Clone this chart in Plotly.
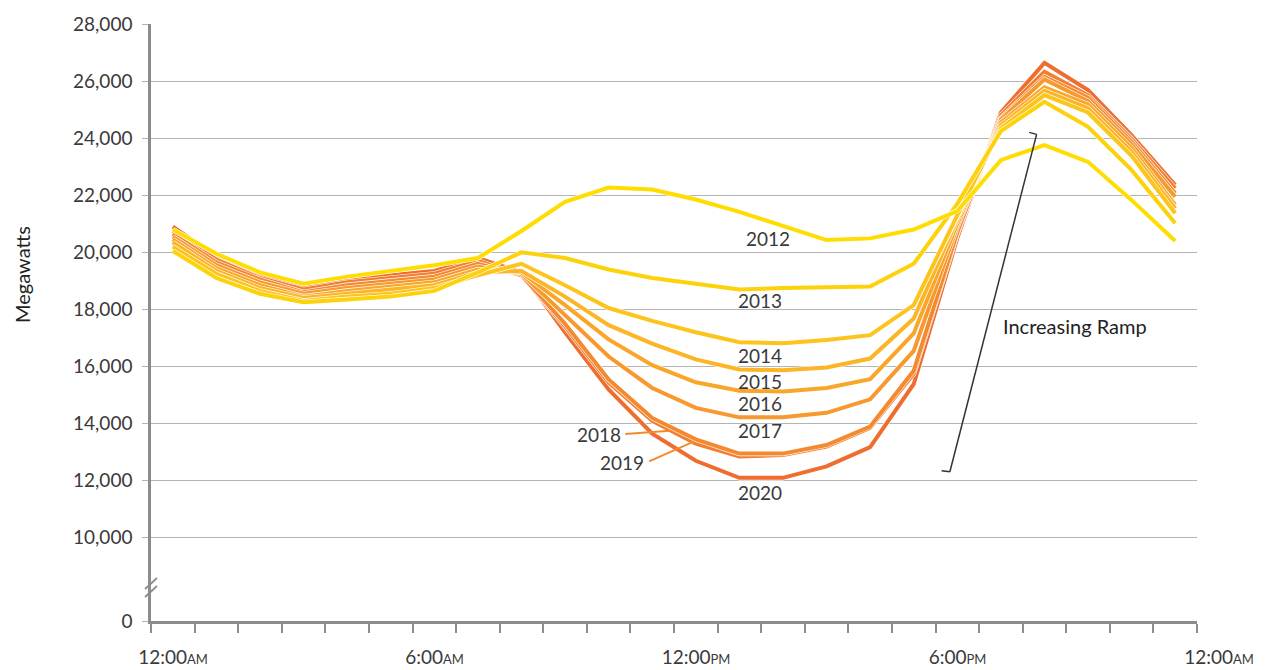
import plotly.graph_objects as go

# Hour of day (half-hour marks)
hours = [0.5, 1.5, 2.5, 3.5, 4.5, 5.5, 6.5, 7.5, 8.5, 9.5, 10.5, 11.5,
         12.5, 13.5, 14.5, 15.5, 16.5, 17.5, 18.5, 19.5, 20.5, 21.5, 22.5, 23.5]

y2012 = [20800, 19950, 19300, 18900, 19150, 19350, 19550, 19800, 20750, 21770, 22270, 22200,
         21850, 21420, 20920, 20430, 20490, 20800, 21450, 23230, 23760, 23170, 21830, 20400]
y2013 = [20050, 19100, 18550, 18250, 18350, 18450, 18650, 19300, 20000, 19800, 19400, 19100,
         18900, 18700, 18750, 18770, 18800, 19600, 21700, 24250, 25275, 24400, 22880, 21020]
y2014 = [20200, 19250, 18650, 18300, 18450, 18550, 18750, 19200, 19600, 18850, 18050, 17600,
         17200, 16850, 16820, 16930, 17100, 18150, 21300, 24350, 25510, 24900, 23380, 21370]
y2015 = [20350, 19350, 18750, 18400, 18550, 18700, 18850, 19300, 19350, 18450, 17450, 16800,
         16250, 15900, 15870, 15970, 16280, 17680, 21150, 24450, 25660, 25050, 23520, 21540]
y2016 = [20450, 19450, 18850, 18450, 18650, 18800, 18950, 19400, 19300, 18150, 16950, 16050,
         15450, 15150, 15130, 15250, 15560, 17160, 21000, 24550, 25780, 25180, 23650, 21660]
y2017 = [20550, 19550, 18950, 18550, 18750, 18900, 19050, 19500, 19250, 17800, 16350, 15250,
         14550, 14220, 14220, 14380, 14850, 16550, 20900, 24650, 26060, 25300, 23780, 21950]
y2018 = [20650, 19650, 19050, 18600, 18850, 19000, 19150, 19600, 19200, 17500, 15550, 14200,
         13450, 12950, 12950, 13250, 13900, 15850, 20700, 24700, 26150, 25420, 23880, 22070]
y2019 = [20750, 19750, 19100, 18700, 18950, 19100, 19250, 19700, 19200, 17400, 15450, 14100,
         13300, 12850, 12900, 13200, 13850, 15750, 20650, 24800, 26330, 25500, 23980, 22240]
y2020 = [20900, 19850, 19200, 18750, 19050, 19200, 19350, 19800, 19300, 17200, 15200, 13650,
         12700, 12100, 12100, 12500, 13180, 15380, 20500, 24900, 26640, 25685, 24100, 22360]

years = ["2012", "2013", "2014", "2015", "2016", "2017", "2018", "2019", "2020"]
series = [y2012, y2013, y2014, y2015, y2016, y2017, y2018, y2019, y2020]
colors = ["#FFDD00", "#FDD20C", "#FCC41C", "#FBB526", "#F9A72B", "#F7992E", "#F48A30", "#F27E30", "#EF6E2F"]

ytick_vals = [7086, 10000, 12000, 14000, 16000, 18000, 20000, 22000, 24000, 26000, 28000]
ytick_text = ["0", "10,000", "12,000", "14,000", "16,000", "18,000", "20,000",
              "22,000", "24,000", "26,000", "28,000"]

xtick_vals = list(range(0, 25))
small = "<span style='font-size:13px'>{}</span>"
xlabels = {0: "12:00" + small.format("AM"), 6: "6:00" + small.format("AM"),
           12: "12:00" + small.format("PM"), 18: "6:00" + small.format("PM"),
           24: "12:00" + small.format("AM")}
xtick_text = [xlabels.get(v, "") for v in xtick_vals]

FONT = "Lato, 'Open Sans', sans-serif"
TXT = "#3a3a3a"

fig = go.Figure()
# draw 2020 first, 2012 last (on top); thin white casing under each line
for yr, ys, c in reversed(list(zip(years, series, colors))):
    fig.add_trace(go.Scatter(x=hours, y=ys, mode="lines", line=dict(color="white", width=5.2),
                             hoverinfo="skip", showlegend=False))
    fig.add_trace(go.Scatter(x=hours, y=ys, mode="lines", name=yr,
                             line=dict(color=c, width=4), showlegend=False))

annotations = []
label_pos = {"2012": (14.16, 20500), "2013": (13.97, 18320), "2014": (13.97, 16400),
             "2015": (13.97, 15490), "2016": (13.97, 14720), "2017": (13.97, 13770),
             "2020": (13.97, 11600)}
for yr, (lx, ly) in label_pos.items():
    annotations.append(dict(x=lx, y=ly, text=yr, showarrow=False, xanchor="center", yanchor="middle",
                            font=dict(family=FONT, size=19, color=TXT)))
# 2018 / 2019 labels with connectors
annotations.append(dict(x=10.82, y=13610, text="2018", showarrow=False, xanchor="right", yanchor="middle",
                        font=dict(family=FONT, size=19, color=TXT)))
annotations.append(dict(x=11.35, y=12650, text="2019", showarrow=False, xanchor="right", yanchor="middle",
                        font=dict(family=FONT, size=19, color=TXT)))
annotations.append(dict(x=19.51, y=17420, text="Increasing Ramp", showarrow=False, xanchor="left",
                        yanchor="middle", font=dict(family=FONT, size=20, color="#222222")))
annotations.append(dict(x=(22 - 151) / 1046, y=(621 - 275) / 597, xref="paper", yref="paper",
                        xanchor="center", yanchor="middle",
                        text="Megawatts", textangle=-90, showarrow=False,
                        font=dict(family=FONT, size=20, color="#222222")))

shapes = []
# connectors for 2018 and 2019
shapes.append(dict(type="line", x0=10.88, y0=13640, x1=11.91, y1=13750, line=dict(color="#F48A30", width=2)))
shapes.append(dict(type="line", x0=11.43, y0=12680, x1=12.45, y1=13370, line=dict(color="#F48A30", width=2)))
# Increasing ramp bracket
shapes.append(dict(type="line", x0=18.33, y0=12314, x1=20.32, y1=24134, line=dict(color="#333333", width=1.5)))
shapes.append(dict(type="line", x0=18.33, y0=12314, x1=18.14, y1=12349, line=dict(color="#333333", width=1.5)))
shapes.append(dict(type="line", x0=20.32, y0=24134, x1=20.15, y1=24204, line=dict(color="#333333", width=1.5)))
# axis break marks
def px_x(p):
    return (p - 151) / 1046
def px_y(p):
    return (621 - p) / 597
shapes.append(dict(type="line", xref="paper", yref="paper", x0=px_x(145), y0=px_y(589), x1=px_x(157),
                   y1=px_y(578), line=dict(color="#8c8c8e", width=1.8)))
shapes.append(dict(type="line", xref="paper", yref="paper", x0=px_x(145), y0=px_y(597), x1=px_x(157),
                   y1=px_y(586), line=dict(color="#8c8c8e", width=1.8)))

fig.update_layout(
    width=1265, height=670,
    margin=dict(l=151, r=68, t=24, b=49),
    plot_bgcolor="white", paper_bgcolor="white",
    font=dict(family=FONT, color=TXT),
    showlegend=False,
    annotations=annotations,
    shapes=shapes,
    xaxis=dict(range=[0, 24], tickvals=xtick_vals, ticktext=xtick_text, showgrid=False,
               showline=True, linecolor="#8c8c8e", linewidth=2.5, ticks="outside", ticklen=9,
               tickwidth=2, tickcolor="#8c8c8e", tickfont=dict(family=FONT, size=19, color=TXT),
               ticklabelshift=22, ticklabelstandoff=8, automargin=False,
               zeroline=False, fixedrange=True),
    yaxis=dict(range=[7086, 28000], tickvals=ytick_vals, ticktext=ytick_text, showgrid=True,
               gridcolor="#b4b4b4", gridwidth=1, showline=True, linecolor="#8c8c8e", linewidth=2.5,
               ticks="outside", ticklen=6, tickcolor="#b4b4b4", tickwidth=1,
               ticklabelstandoff=6, automargin=False,
               tickfont=dict(family=FONT, size=19, color=TXT), zeroline=False, fixedrange=True),
)

fig.write_html("out.html", config={"displayModeBar": False},
               post_script="document.body.style.margin='0';")
